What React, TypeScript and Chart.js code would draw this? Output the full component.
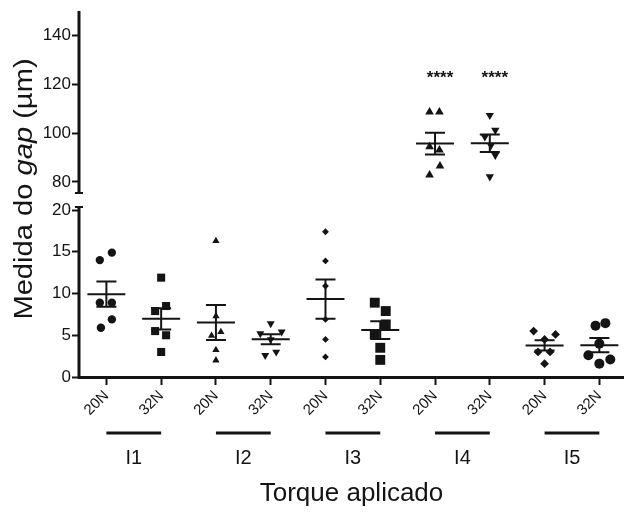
import React, { useEffect, useRef } from 'react';
import { Chart, registerables } from 'chart.js';

Chart.register(...registerables);

// ---- data ----
const CATEGORIES = ['20N', '32N', '20N', '32N', '20N', '32N', '20N', '32N', '20N', '32N'];
const GROUPS = ['I1', 'I2', 'I3', 'I4', 'I5'];

const I1_20N = [14.9, 14.0, 8.9, 8.9, 6.9, 5.9];
const I1_32N = [11.9, 8.5, 7.9, 5.5, 5.0, 3.0];
const I2_20N = [16.3, 7.3, 5.4, 4.95, 3.25, 2.0];
const I2_32N = [6.4, 5.2, 5.4, 4.5, 2.6, 3.0];
const I3_20N = [17.4, 13.9, 10.9, 6.9, 4.5, 2.4];
const I3_32N = [8.9, 7.9, 6.3, 5.1, 3.5, 2.05];
const I4_20N = [108.7, 108.7, 94.4, 93.1, 86.5, 82.9];
const I4_32N = [107.3, 101.2, 98.5, 95.0, 91.0, 82.2];
const I5_20N = [5.5, 5.1, 4.5, 3.0, 3.0, 1.6];
const I5_32N = [6.45, 6.15, 4.0, 2.6, 2.1, 1.6];

const SERIES = [I1_20N, I1_32N, I2_20N, I2_32N, I3_20N, I3_32N, I4_20N, I4_32N, I5_20N, I5_32N];
// which part of the broken axis each series belongs to
const SEGMENT = ['low', 'low', 'low', 'low', 'low', 'low', 'high', 'high', 'low', 'low'];
const SIG_LABELS = ['', '', '', '', '', '', '****', '****', '', ''];

const LOW_TICKS = [0, 5, 10, 15, 20];
const HIGH_TICKS = [80, 100, 120, 140];

// ---- presentation (horizontal spread of points, marker styles) ----
const JITTER = [
  [0.1, -0.12, -0.12, 0.1, 0.1, -0.1],
  [0, 0.09, -0.11, -0.11, 0.09, 0],
  [0, 0, 0.09, -0.08, 0, 0],
  [0, -0.19, 0.2, 0, -0.1, 0.1],
  [0, 0, 0, 0, 0, 0],
  [-0.1, 0.1, 0.1, -0.1, 0, 0],
  [-0.1, 0.08, -0.1, 0.08, 0.09, -0.1],
  [0, 0.1, -0.09, 0.02, 0.1, 0],
  [-0.2, 0.2, 0, -0.12, 0.1, 0],
  [0.11, -0.07, 0, -0.2, 0.2, 0],
];
const STYLES = ['circle', 'rect', 'triangle', 'triangle', 'rectRot', 'rect', 'triangle', 'triangle', 'rectRot', 'circle'];
const ROTATIONS = [0, 0, 0, 180, 0, 0, 0, 180, 0, 0];
const RADII = [4.2, 5.7, 4.2, 4.6, 3.4, 7, 5, 4.8, 4.4, 5];

const FONT = "'Liberation Sans', Arial, Helvetica, sans-serif";
const INK = '#141414';

function meanSem(v: number[]) {
  const n = v.length;
  const m = v.reduce((a, b) => a + b, 0) / n;
  const sd = Math.sqrt(v.reduce((a, b) => a + (b - m) * (b - m), 0) / (n - 1));
  return { m, sem: sd / Math.sqrt(n) };
}

const decorPlugin = {
  id: 'decor',
  afterDatasetsDraw(chart: any) {
    const ctx = chart.ctx;
    const xs = chart.scales.x;
    ctx.save();
    ctx.strokeStyle = INK;
    ctx.lineWidth = 2;
    SERIES.forEach((vals, i) => {
      const ys = SEGMENT[i] === 'high' ? chart.scales.yTop : chart.scales.y;
      const { m, sem } = meanSem(vals);
      const cx = xs.getPixelForValue(i);
      const pm = ys.getPixelForValue(m);
      const pu = ys.getPixelForValue(m + sem);
      const pl = ys.getPixelForValue(m - sem);
      ctx.beginPath();
      ctx.moveTo(cx - 19, pm); ctx.lineTo(cx + 19, pm);
      ctx.moveTo(cx - 10, pu); ctx.lineTo(cx + 10, pu);
      ctx.moveTo(cx - 10, pl); ctx.lineTo(cx + 10, pl);
      ctx.moveTo(cx, pu); ctx.lineTo(cx, pl);
      ctx.stroke();
    });
    ctx.restore();
  },
  afterDraw(chart: any) {
    const ctx = chart.ctx;
    const xs = chart.scales.x;
    const yLow = chart.scales.y;
    const yTop = chart.scales.yTop;
    const left = chart.chartArea.left;
    ctx.save();
    ctx.strokeStyle = INK;
    ctx.fillStyle = INK;
    // broken y axis
    ctx.lineWidth = 3;
    const tTop = yTop.getPixelForValue(150);
    const tBot = yTop.getPixelForValue(75.5);
    const lTop = yLow.getPixelForValue(20.35);
    const lBot = yLow.getPixelForValue(0) + 1.5;
    ctx.beginPath();
    ctx.moveTo(left, tTop); ctx.lineTo(left, tBot);
    ctx.moveTo(left, lTop); ctx.lineTo(left, lBot);
    ctx.stroke();
    ctx.lineWidth = 2;
    ctx.beginPath();
    ctx.moveTo(left - 4, tBot); ctx.lineTo(left + 4, tBot);
    ctx.moveTo(left - 4, lTop); ctx.lineTo(left + 4, lTop);
    ctx.stroke();

    // significance marks
    ctx.font = `bold 17px ${FONT}`;
    ctx.textAlign = 'center';
    ctx.textBaseline = 'middle';
    SIG_LABELS.forEach((s, i) => {
      if (!s) return;
      const ys = SEGMENT[i] === 'high' ? yTop : yLow;
      ctx.fillText(s, xs.getPixelForValue(i) + 5, ys.getPixelForValue(122.5));
    });

    // group brackets and labels
    const bracketY = 433;
    ctx.lineWidth = 3;
    ctx.font = `20px ${FONT}`;
    ctx.textBaseline = 'middle';
    GROUPS.forEach((g, k) => {
      const a = xs.getPixelForValue(2 * k);
      const b = xs.getPixelForValue(2 * k + 1);
      ctx.beginPath();
      ctx.moveTo(a, bracketY); ctx.lineTo(b, bracketY);
      ctx.stroke();
      ctx.fillText(g, (a + b) / 2, 458);
    });

    // y title with italic "gap"
    const parts = [
      { t: 'Medida do ', f: `26px ${FONT}` },
      { t: 'gap', f: `italic 26px ${FONT}` },
      { t: ' (\u00b5m)', f: `26px ${FONT}` },
    ];
    let total = 0;
    const widths = parts.map((p) => { ctx.font = p.f; const w = ctx.measureText(p.t).width; total += w; return w; });
    ctx.translate(32, 189);
    ctx.rotate(-Math.PI / 2);
    ctx.scale(1.12, 1);
    ctx.textAlign = 'left';
    ctx.textBaseline = 'alphabetic';
    let x = -total / 2;
    parts.forEach((p, i) => { ctx.font = p.f; ctx.fillText(p.t, x, 0); x += widths[i]; });
    ctx.restore();
  },
};

export default function App() {
  const ref = useRef<HTMLCanvasElement | null>(null);
  useEffect(() => {
    if (!ref.current) return;
    const datasets = SERIES.map((vals, i) => ({
      label: CATEGORIES[i],
      data: vals.map((v, j) => ({ x: i + JITTER[i][j], y: v })),
      yAxisID: SEGMENT[i] === 'high' ? 'yTop' : 'y',
      pointStyle: STYLES[i] as any,
      pointRotation: ROTATIONS[i],
      pointRadius: RADII[i],
      backgroundColor: INK,
      borderColor: INK,
      borderWidth: 0,
      showLine: false,
    }));
    const tickFont = { family: FONT, size: 17 };
    const chart = new Chart(ref.current, {
      type: 'scatter',
      data: { datasets },
      plugins: [decorPlugin],
      options: {
        animation: false,
        responsive: false,
        events: [],
        layout: { autoPadding: false, padding: { top: 11, left: 0, right: 0, bottom: 0 } },
        plugins: { legend: { display: false }, tooltip: { enabled: false } },
        scales: {
          x: {
            type: 'linear',
            min: -0.5,
            max: 9.45,
            border: { display: true, width: 3, color: INK },
            grid: { drawOnChartArea: false, drawTicks: true, tickLength: 8, tickWidth: 2, tickColor: INK },
            afterBuildTicks: (s: any) => { s.ticks = CATEGORIES.map((_, i) => ({ value: i })); },
            ticks: {
              autoSkip: false,
              minRotation: 45,
              maxRotation: 45,
              padding: 2,
              color: INK,
              font: { family: FONT, size: 15 },
              callback: (v: any) => CATEGORIES[Math.round(Number(v))] ?? '',
            },
            title: {
              display: true,
              text: 'Torque aplicado',
              color: INK,
              font: { family: FONT, size: 26 },
              padding: { top: 0, bottom: 5 },
            },
            afterFit: (s: any) => { s.height = 137; s.paddingLeft = 0; s.paddingRight = 0; },
          },
          y: {
            type: 'linear',
            position: 'left',
            stack: 'gap',
            stackWeight: 177,
            min: 0,
            max: 21.2,
            border: { display: false },
            grid: { drawOnChartArea: false, drawTicks: true, tickLength: 7, tickWidth: 2, tickColor: INK },
            afterBuildTicks: (s: any) => { s.ticks = LOW_TICKS.map((v) => ({ value: v })); },
            ticks: { padding: 1, color: INK, font: tickFont },
            afterFit: (s: any) => { s.width = 79; s.paddingTop = 0; s.paddingBottom = 0; },
          },
          yTop: {
            type: 'linear',
            position: 'left',
            stack: 'gap',
            stackWeight: 189,
            min: 72.63,
            max: 150,
            border: { display: false },
            grid: { drawOnChartArea: false, drawTicks: true, tickLength: 7, tickWidth: 2, tickColor: INK },
            afterBuildTicks: (s: any) => { s.ticks = HIGH_TICKS.map((v) => ({ value: v })); },
            ticks: { padding: 1, color: INK, font: tickFont },
            afterFit: (s: any) => { s.width = 79; s.paddingTop = 0; s.paddingBottom = 0; },
          },
        },
      } as any,
    });
    return () => chart.destroy();
  }, []);
  return (
    <div style={{ position: 'fixed', left: 0, top: 0, width: 624, height: 514, background: '#fff' }}>
      <canvas ref={ref} width={624} height={514} />
    </div>
  );
}
